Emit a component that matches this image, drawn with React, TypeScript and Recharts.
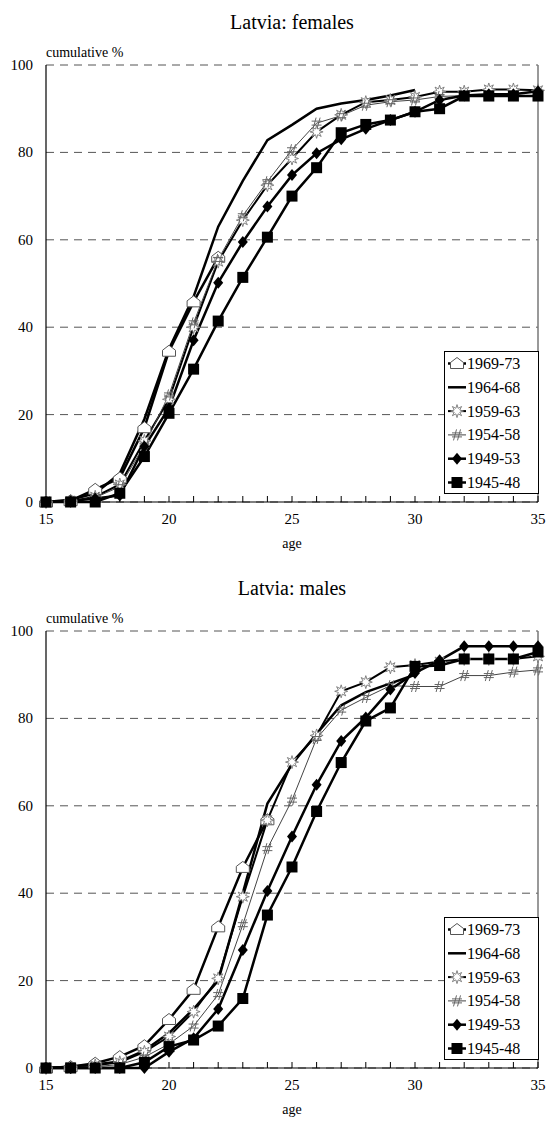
import React from 'react';
import { LineChart, Line, XAxis, YAxis, CartesianGrid, ReferenceLine, Legend } from 'recharts';

// ---------- data ----------
const AGES = [15, 16, 17, 18, 19, 20, 21, 22, 23, 24, 25, 26, 27, 28, 29, 30, 31, 32, 33, 34, 35];
const SERIES_NAMES = ['1969-73', '1964-68', '1959-63', '1954-58', '1949-53', '1945-48'];
const Y_TICKS = [0, 20, 40, 60, 80, 100];
const X_LABELED = [15, 20, 25, 30, 35];

// females (cumulative %, by age from 15)
const F_1969_73 = [0, 0.3, 2.9, 5.5, 17, 34.5, 45.8, 56];
const F_1964_68 = [0, 0.5, 2, 6.5, 19, 35, 47, 63, 73.5, 82.8, 86.3, 90, 91.2, 92, 93, 94.3];
const F_1959_63 = [0, 0.2, 1.2, 4, 14, 23.5, 40, 55, 64.5, 72.5, 78.6, 84.7, 88.6, 91.5, 92, 92.7, 93.9, 93.9, 94.4, 94.4, 94.2];
const F_1954_58 = [0, 0.2, 1, 3.5, 13, 24.5, 41, 55.5, 65.5, 73.3, 80.6, 86.7, 88.4, 90.8, 91.6, 92, 92.8, 93, 93, 93, 93];
const F_1949_53 = [0, 0.2, 0.8, 1.5, 12.7, 21.5, 37, 50.2, 59.5, 67.6, 74.8, 79.8, 83, 85.4, 87.4, 89.3, 92, 93, 93.3, 93.3, 94];
const F_1945_48 = [0, 0, 0, 2, 10.4, 20.3, 30.4, 41.4, 51.4, 60.6, 70, 76.5, 84.5, 86.4, 87.4, 89.3, 90, 92.9, 92.9, 92.9, 92.9];

// males
const M_1969_73 = [0, 0.3, 1.1, 2.6, 5.1, 11.1, 18, 32.3, 45.9, 56.8];
const M_1964_68 = [0, 0.3, 0.8, 1.5, 4, 8, 13.5, 20, 40, 60.5, 69.5, 76.5, 83, 86, 88, 90];
const M_1959_63 = [0, 0.2, 0.6, 1.3, 3.7, 7.2, 12.9, 20.5, 39.2, 56.7, 70, 76.1, 86.2, 88.3, 91.7, 92.2, 93, 93.6, 93.6, 93.6, 94.2];
const M_1954_58 = [0, 0, 0.3, 0.8, 2.5, 5.5, 9.6, 16.8, 32.8, 50.2, 61.3, 75.4, 81.9, 84.8, 87.5, 87.3, 87.3, 89.8, 89.8, 90.6, 91.1];
const M_1949_53 = [0, 0, 0, 0, 0, 3.7, 6.8, 13.5, 27, 40.5, 53, 64.8, 74.8, 80.2, 86.6, 90.4, 93.3, 96.5, 96.5, 96.5, 96.5];
const M_1945_48 = [0, 0, 0, 0, 1.3, 4.9, 6.4, 9.6, 15.9, 35, 46, 58.7, 69.9, 79.4, 82.4, 91.9, 92.1, 93.6, 93.6, 93.6, 95.2];

const FONT = "'Liberation Serif', 'DejaVu Serif', 'Times New Roman', Times, serif";
const TXT = { fontFamily: FONT };

function buildRows(series: number[][]) {
  return AGES.map((age, i) => {
    const row: any = { age };
    series.forEach((arr, k) => {
      row['s' + k] = i < arr.length ? arr[i] : null;
    });
    return row;
  });
}

// ---------- markers ----------
const Pentagon = ({ cx, cy }: any) => (
  <path
    d={`M${cx - 6.5},${cy + 5} L${cx + 6.5},${cy + 5} L${cx + 6.5},${cy - 1} L${cx},${cy - 6} L${cx - 6.5},${cy - 1} Z`}
    fill="#fff"
    stroke="#555"
    strokeWidth={1}
  />
);

const Star = ({ cx, cy }: any) => {
  const pts: string[] = [];
  for (let i = 0; i < 16; i++) {
    const r = i % 2 === 0 ? 6.5 : 3;
    const a = (Math.PI * 2 * i) / 16 - Math.PI / 2;
    pts.push(`${cx + r * Math.cos(a)},${cy + r * Math.sin(a)}`);
  }
  return <polygon points={pts.join(' ')} fill="#fff" stroke="#777" strokeWidth={0.9} />;
};

const Hash = ({ cx, cy }: any) => (
  <g stroke="#666" strokeWidth={1}>
    <line x1={cx - 5} x2={cx + 5} y1={cy - 2} y2={cy - 2} />
    <line x1={cx - 5} x2={cx + 5} y1={cy + 2} y2={cy + 2} />
    <line x1={cx - 0.5} x2={cx - 3.5} y1={cy - 5.5} y2={cy + 5.5} />
    <line x1={cx + 3.5} x2={cx + 0.5} y1={cy - 5.5} y2={cy + 5.5} />
  </g>
);

const Diamond = ({ cx, cy }: any) => (
  <path d={`M${cx},${cy - 6} L${cx + 5},${cy} L${cx},${cy + 6} L${cx - 5},${cy} Z`} fill="#000" />
);

const Square = ({ cx, cy }: any) => <rect x={cx - 5.5} y={cy - 5.5} width={11} height={11} fill="#000" />;

const MARKERS: any[] = [Pentagon, null, Star, Hash, Diamond, Square];
const STROKES = ['#000', '#000', '#000', '#444', '#000', '#000'];
const WIDTHS = [2.5, 2.5, 2, 1, 2.5, 2.5];

const makeDot = (Shape: any, tag: string) => (props: any) => {
  const { cx, cy, index, value } = props;
  if (cx == null || cy == null || value == null) return <g key={`${tag}-${index}`} />;
  return (
    <g key={`${tag}-${index}`}>
      <Shape cx={cx} cy={cy} />
    </g>
  );
};

// ---------- axis ticks ----------
const XTick = (props: any) => {
  const { x, y, payload } = props;
  const v = payload.value;
  return (
    <g>
      <line x1={x} x2={x} y1={y} y2={y - 6} stroke="#000" strokeWidth={1} />
      {X_LABELED.includes(v) && (
        <text x={x} y={y + 22} textAnchor="middle" fontSize={15} style={TXT} fill="#000">
          {v}
        </text>
      )}
    </g>
  );
};

const YTick = (props: any) => {
  const { x, y, payload } = props;
  return (
    <text x={x} y={y + 5} textAnchor="end" fontSize={15} style={TXT} fill="#000">
      {payload.value}
    </text>
  );
};

// ---------- legend ----------
const LegendBox = () => (
  <svg width={95} height={143} style={{ display: 'block' }}>
    <rect x={0.5} y={0.5} width={94} height={142} fill="#fff" stroke="#000" strokeWidth={1} />
    {SERIES_NAMES.map((name, i) => {
      const cy = 12.5 + i * 23.8;
      const M = MARKERS[i];
      return (
        <g key={name}>
          <line x1={4} x2={22} y1={cy} y2={cy} stroke={STROKES[i]} strokeWidth={WIDTHS[i]} />
          {M && <M cx={13} cy={cy} />}
          <text x={23} y={cy + 5.5} fontSize={16} style={TXT} fill="#000">
            {name}
          </text>
        </g>
      );
    })}
  </svg>
);

// ---------- panel ----------
const Panel = ({ title, series, top, height }: any) => {
  const data = buildRows(series);
  const xAxisHeight = height - 65 - 437;
  return (
    <div style={{ position: 'absolute', left: 0, top, width: 550, height }}>
      <svg width={550} height={height} style={{ position: 'absolute', left: 0, top: 0 }}>
        <text x={292} y={29} textAnchor="middle" fontSize={20} style={TXT} fill="#000">
          {title}
        </text>
        <text x={46} y={56.5} fontSize={14} style={TXT} fill="#000">
          cumulative %
        </text>
        <text x={292} y={502 + 46} textAnchor="middle" fontSize={14} style={TXT} fill="#000">
          age
        </text>
      </svg>
      <div style={{ position: 'absolute', left: 0, top: 0 }}>
        <LineChart width={550} height={height} data={data} margin={{ top: 65, right: 12, bottom: 0, left: 0 }}>
          <CartesianGrid vertical={false} stroke="#555" strokeDasharray="8 6" strokeWidth={1} />
          <XAxis
            dataKey="age"
            type="number"
            domain={[15, 35]}
            ticks={AGES}
            interval={0}
            tick={<XTick />}
            tickLine={false}
            tickSize={0}
            tickMargin={0}
            axisLine={{ stroke: '#000', strokeWidth: 1.2 }}
            height={xAxisHeight}
          />
          <YAxis
            type="number"
            domain={[0, 100]}
            ticks={Y_TICKS}
            interval={0}
            width={46}
            tickLine={false}
            tickSize={0}
            tickMargin={13}
            tick={<YTick />}
            axisLine={{ stroke: '#000', strokeWidth: 1.2 }}
          />
          <ReferenceLine x={35} stroke="#777" strokeWidth={1.5} />
          {SERIES_NAMES.map((name, k) => (
            <Line
              key={name}
              name={name}
              dataKey={'s' + k}
              type="linear"
              stroke={STROKES[k]}
              strokeWidth={WIDTHS[k]}
              dot={MARKERS[k] ? makeDot(MARKERS[k], name) : false}
              activeDot={false}
              isAnimationActive={false}
              connectNulls={false}
            />
          ))}
          <Legend
            layout="vertical"
            align="center"
            verticalAlign="middle"
            content={<LegendBox />}
            wrapperStyle={{ left: 444, top: 351, width: 95, height: 143 }}
          />
        </LineChart>
      </div>
    </div>
  );
};

export default function App() {
  return (
    <div style={{ position: 'absolute', left: 0, top: 0, width: 550, height: 1119, background: '#fff' }}>
      <Panel
        title="Latvia: females"
        top={0}
        height={560}
        series={[F_1969_73, F_1964_68, F_1959_63, F_1954_58, F_1949_53, F_1945_48]}
      />
      <Panel
        title="Latvia: males"
        top={566}
        height={553}
        series={[M_1969_73, M_1964_68, M_1959_63, M_1954_58, M_1949_53, M_1945_48]}
      />
    </div>
  );
}
